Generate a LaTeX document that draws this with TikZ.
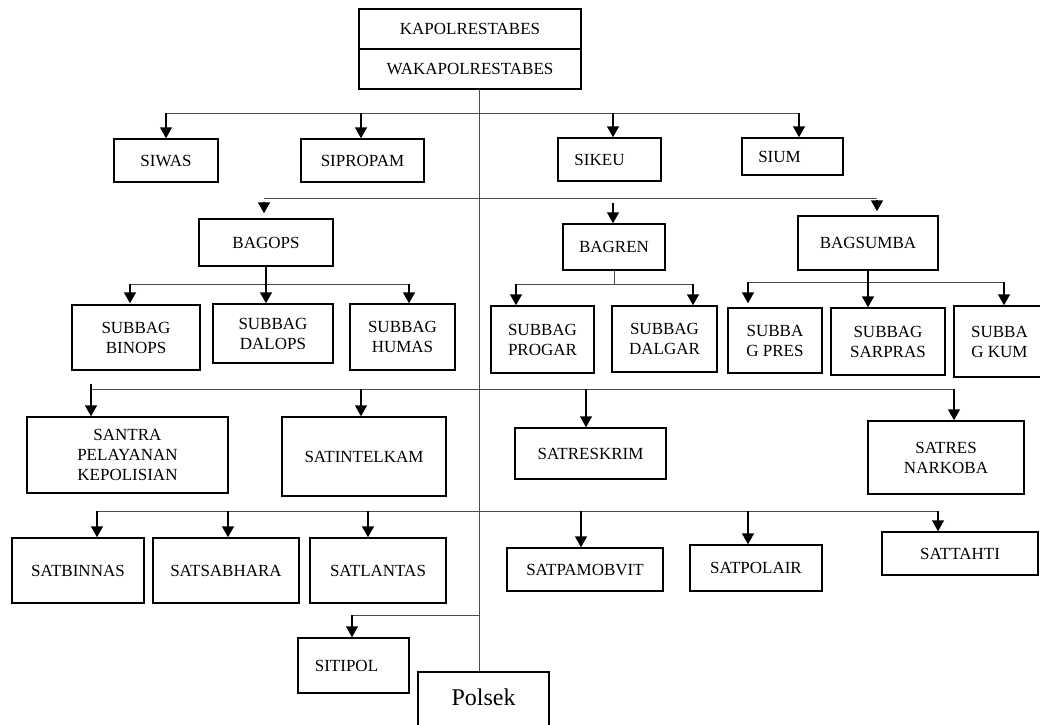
\documentclass[tikz,border=0pt]{standalone}
\usepackage{fontspec}
\setmainfont{Liberation Serif}
\usetikzlibrary{arrows.meta}
\tikzset{
  box/.style={draw=black, line width=1.5pt, inner sep=0pt, align=center},
  bus/.style={line width=1pt, draw=black!70},
  arr/.style={line width=1.5pt, draw=black, -{Triangle[width=12pt,length=11pt]}},
}
\newcommand\bx[6]{\node[box, minimum width={(#3-#1)*1pt}, minimum height={(#4-#2)*1pt}] (#5) at ({(#1+#3)/2},{(#2+#4)/2}) {#6};}
\newcommand\bxs[7]{\node[box, minimum width={(#3-#1)*1pt}, minimum height={(#4-#2)*1pt}, label={[#7]center:#6}] (#5) at ({(#1+#3)/2},{(#2+#4)/2}) {};}
\begin{document}
\begin{tikzpicture}[x=1pt, y=-1pt, font=\fontsize{17}{20}\selectfont]
\useasboundingbox[fill=white] (0,0) rectangle (1040,724);
% boxes
\bx{359}{9}{581}{49}{kapol}{KAPOLRESTABES}
\bx{359}{49}{581}{89}{waka}{WAKAPOLRESTABES}
\bx{114}{139}{218}{182}{siwas}{SIWAS}
\bx{301}{139}{424}{182}{sipropam}{SIPROPAM}
\bxs{558}{138}{661}{181}{sikeu}{SIKEU}{xshift=-10pt}
\bxs{742}{138}{843}{175}{sium}{SIUM}{xshift=-13pt}
\bx{199}{219}{333}{266}{bagops}{BAGOPS}
\bx{563}{224}{665}{270}{bagren}{BAGREN}
\bx{798}{216}{938}{270}{bagsumba}{BAGSUMBA}
\bx{72}{305}{200}{370}{binops}{SUBBAG\\BINOPS}
\bx{213}{304}{333}{363}{dalops}{SUBBAG\\DALOPS}
\bx{350}{304}{455}{370}{humas}{SUBBAG\\HUMAS}
\bx{491}{306}{594}{373}{progar}{SUBBAG\\PROGAR}
\bx{612}{306}{717}{372}{dalgar}{SUBBAG\\DALGAR}
\bx{728}{308}{822}{373}{gpres}{SUBBA\\G PRES}
\bx{831}{308}{945}{375}{sarpras}{SUBBAG\\SARPRAS}
\bx{954}{306}{1045}{377}{kum}{SUBBA\\G KUM}
\bx{27}{417}{228}{493}{santra}{SANTRA\\PELAYANAN\\KEPOLISIAN}
\bx{282}{417}{446}{496}{satintelkam}{SATINTELKAM}
\bx{515}{428}{666}{479}{satreskrim}{SATRESKRIM}
\bx{868}{421}{1024}{494}{narkoba}{SATRES\\NARKOBA}
\bx{12}{538}{144}{603}{satbinnas}{SATBINNAS}
\bx{153}{538}{299}{603}{satsabhara}{SATSABHARA}
\bx{310}{538}{446}{603}{satlantas}{SATLANTAS}
\bx{507}{548}{663}{591}{satpamobvit}{SATPAMOBVIT}
\bx{690}{545}{822}{591}{satpolair}{SATPOLAIR}
\bx{882}{532}{1038}{575}{sattahti}{SATTAHTI}
\bxs{298}{638}{409}{693}{sitipol}{SITIPOL}{xshift=-7pt}
\bxs{418}{672}{549}{735}{polsek}{\fontsize{24}{28}\selectfont Polsek}{yshift=6pt}
% main line
\coordinate (mtop) at (479,89);
\draw[bus] (mtop) -- (mtop |- polsek.north);
% row 1
\coordinate (r1a) at (166,113); \coordinate (r1b) at (361,113);
\coordinate (r1c) at (613,113); \coordinate (r1d) at (799,113);
\draw[bus] (r1a) -- (r1d);
\draw[arr] (r1a) -- (r1a |- siwas.north);
\draw[arr] (r1b) -- (r1b |- sipropam.north);
\draw[arr] (r1c) -- (r1c |- sikeu.north);
\draw[arr] (r1d) -- (r1d |- sium.north);
% row 2
\coordinate (r2a) at (264,198); \coordinate (r2b) at (613,198); \coordinate (r2c) at (877,198);
\draw[bus] (r2a) -- (r2c);
\draw[arr, shorten >=5pt] ([yshift=-4pt]r2a) -- (r2a |- bagops.north);
\draw[arr] ([yshift=-5pt]r2b) -- (r2b |- bagren.north);
\draw[arr, shorten >=4pt] ([yshift=-2pt]r2c) -- (r2c |- bagsumba.north);
% bagops children
\coordinate (opsa) at (130,284); \coordinate (opsb) at (409,284);
\draw[bus] (opsa) -- (opsb);
\draw[arr] (bagops.south) -- (bagops.south |- dalops.north);
\draw[arr, shorten >=1pt] (opsa) -- (opsa |- binops.north);
\draw[arr] (opsb) -- (opsb |- humas.north);
% bagren children
\coordinate (rena) at (516,284); \coordinate (renb) at (693,284);
\draw[bus] (bagren.south) -- (bagren.south |- rena);
\draw[bus] (rena) -- (renb);
\draw[arr] (rena) -- (rena |- progar.north);
\draw[arr] (renb) -- (renb |- dalgar.north);
% bagsumba children
\coordinate (suma) at (748,282); \coordinate (sumb) at (1004,282);
\draw[bus] (suma) -- (sumb);
\draw[arr] (bagsumba.south) -- (bagsumba.south |- sarpras.north);
\draw[arr, shorten >=4pt] (suma) -- (suma |- gpres.north);
\draw[arr] (sumb) -- (sumb |- kum.north);
% row 4
\coordinate (r4a) at (91,389); \coordinate (r4b) at (361,389);
\coordinate (r4c) at (586,389); \coordinate (r4d) at (954,389);
\draw[bus] (r4a) -- (r4d);
\draw[arr] ([yshift=5pt]r4a) -- (r4a |- santra.north);
\draw[arr] (r4b) -- (r4b |- satintelkam.north);
\draw[arr] (r4c) -- (r4c |- satreskrim.north);
\draw[arr] (r4d) -- (r4d |- narkoba.north);
% row 5
\coordinate (r5a) at (97,511); \coordinate (r5b) at (228,511); \coordinate (r5c) at (368,511);
\coordinate (r5d) at (581,511); \coordinate (r5e) at (748,511); \coordinate (r5f) at (938,511);
\draw[bus] (r5a) -- (r5f);
\draw[arr] (r5a) -- (r5a |- satbinnas.north);
\draw[arr] (r5b) -- (r5b |- satsabhara.north);
\draw[arr] (r5c) -- (r5c |- satlantas.north);
\draw[arr] (r5d) -- (r5d |- satpamobvit.north);
\draw[arr] (r5e) -- (r5e |- satpolair.north);
\draw[arr] (r5f) -- (r5f |- sattahti.north);
% sitipol
\coordinate (tip) at (479,615); \coordinate (tipb) at (352,615);
\draw[bus] (tip) -- (tipb);
\draw[arr] (tipb) -- (tipb |- sitipol.north);
\end{tikzpicture}
\end{document}
